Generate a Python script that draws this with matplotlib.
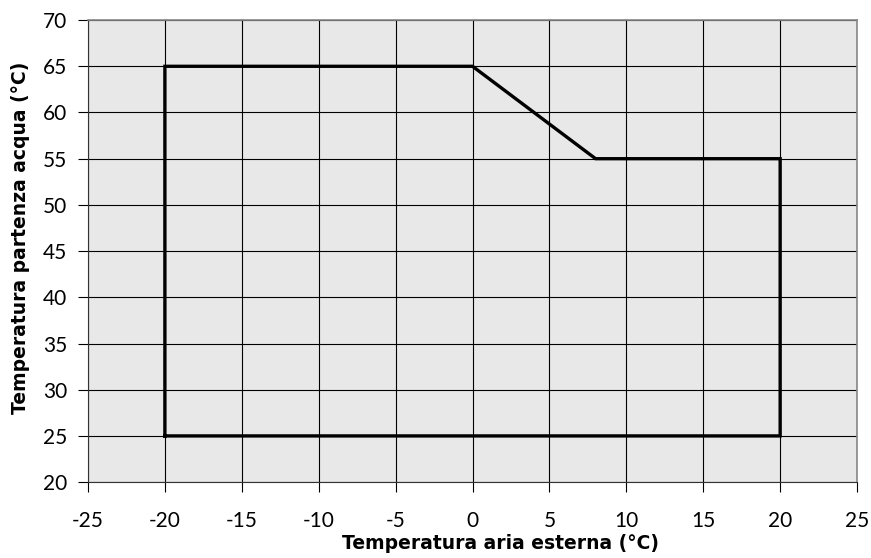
import numpy as np
import matplotlib.pyplot as plt

# operating envelope (outdoor air temp vs water outlet temp)
t_aria = [-20, -20, 0, 8, 20, 20, -20]
t_acqua = [25, 65, 65, 55, 55, 25, 25]

x_ticks = list(range(-25, 26, 5))
y_ticks = list(range(20, 71, 5))

plt.rcParams['font.family'] = ['Lato', 'DejaVu Sans']
plt.rcParams['axes.unicode_minus'] = False

fig = plt.figure(figsize=(8.71, 5.58), dpi=100)
ax = fig.add_axes([0.101, 0.136, 0.883, 0.828])
ax.set_facecolor('#e8e8e8')

ax.plot(t_aria, t_acqua, color='black', linewidth=2.4, solid_joinstyle='miter', zorder=3)

ax.set_xlim(-25, 25)
ax.set_ylim(20, 70)
ax.set_xticks(x_ticks)
ax.set_yticks(y_ticks)
ax.grid(True, color='black', linewidth=0.8)
ax.set_axisbelow(True)
ax.tick_params(direction='out', length=7, width=0.8, labelsize=15)
ax.tick_params(axis='x', pad=14)
ax.tick_params(axis='y', pad=8)

for s in ['top', 'right']:
    ax.spines[s].set_color('#888888')
    ax.spines[s].set_linewidth(1.2)
for s in ['left', 'bottom']:
    ax.spines[s].set_color('#333333')
    ax.spines[s].set_linewidth(0.8)

lab_font = dict(family='DejaVu Sans', fontsize=13.5, fontweight='bold')
ax.set_xlabel('Temperatura aria esterna (°C)', labelpad=2, x=0.536, **lab_font)
ax.set_ylabel('Temperatura partenza acqua (°C)', labelpad=9, y=0.528, **lab_font)

fig.savefig('out.png', dpi=100)
